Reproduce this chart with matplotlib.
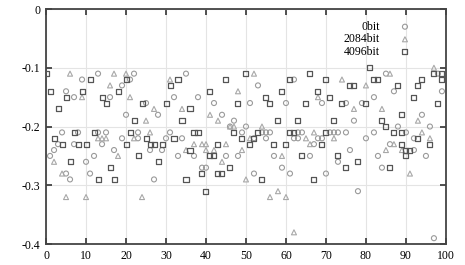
import matplotlib
matplotlib.use("Agg")
import matplotlib.pyplot as plt

# ---- data ----
bit0_x = [13, 22, 35, 9, 21, 19, 5, 7, 16, 32, 38, 25, 20, 28, 4, 8, 13, 15, 19, 3, 7, 14, 2, 17, 1, 12, 10, 5, 11, 6,
          23, 31, 23, 30, 34, 26, 29, 33, 37, 39, 27,
          53, 42, 51, 44, 47, 46, 50, 49, 54, 55, 56, 52, 55, 45, 48, 57, 40, 59, 52,
          62, 60, 69, 75, 79, 77, 63, 64, 71, 72, 73, 75, 62, 63, 68, 69, 80, 67, 76, 66, 73, 61, 70, 78,
          85, 98, 87, 82, 94, 88, 96, 82, 90, 92, 86, 92, 83, 95, 84, 97, 99]
bit0_y = [-0.11, -0.11, -0.11, -0.12, -0.12, -0.13, -0.14, -0.15, -0.15, -0.15, -0.15, -0.16, -0.18, -0.18, -0.21, -0.21, -0.21, -0.21, -0.22, -0.23, -0.23, -0.23, -0.24, -0.24, -0.25, -0.25, -0.26, -0.28, -0.28, -0.29,
          -0.21, -0.21, -0.22, -0.22, -0.22, -0.24, -0.24, -0.25, -0.25, -0.27, -0.29,
          -0.13, -0.16, -0.16, -0.18, -0.19, -0.20, -0.20, -0.21, -0.21, -0.21, -0.21, -0.22, -0.22, -0.25, -0.25, -0.25, -0.27, -0.27, -0.28,
          -0.12, -0.16, -0.16, -0.16, -0.16, -0.19, -0.21, -0.21, -0.21, -0.21, -0.21, -0.21, -0.22, -0.22, -0.22, -0.22, -0.22, -0.23, -0.24, -0.25, -0.26, -0.28, -0.28, -0.31,
          -0.11, -0.11, -0.14, -0.15, -0.18, -0.20, -0.20, -0.21, -0.21, -0.22, -0.23, -0.24, -0.25, -0.25, -0.27, -0.39, -0.14]

bit2084_x = [6, 17, 16, 9, 13, 14, 15, 18, 2, 4, 5, 10,
             20, 31, 21, 27, 34, 25, 26, 22, 37, 39, 35, 24,
             52, 48, 41, 43, 46, 47, 54, 51, 40, 45, 40, 42, 49, 59, 44, 50, 56, 58, 60,
             74, 68, 77, 67, 65, 72, 66, 62,
             97, 86, 80, 84, 93, 94, 96, 87, 85, 89, 91]
bit2084_y = [-0.11, -0.11, -0.13, -0.15, -0.22, -0.22, -0.22, -0.25, -0.26, -0.28, -0.32, -0.32,
             -0.11, -0.12, -0.15, -0.17, -0.17, -0.19, -0.21, -0.22, -0.23, -0.23, -0.24, -0.32,
             -0.11, -0.14, -0.18, -0.19, -0.20, -0.20, -0.20, -0.22, -0.23, -0.23, -0.24, -0.24, -0.24, -0.25, -0.26, -0.29, -0.32, -0.31, -0.32,
             -0.12, -0.15, -0.17, -0.21, -0.22, -0.22, -0.23, -0.38,
             -0.10, -0.11, -0.13, -0.17, -0.19, -0.21, -0.22, -0.23, -0.24, -0.24, -0.28]

bit4096_x = [0, 11, 20, 1, 9, 18, 5, 14, 15, 3, 7, 12, 2, 4, 8, 10, 20, 6, 16, 13, 17,
             33, 31, 24, 30, 36, 22, 34, 21, 37, 38, 25, 32, 26, 27, 29, 36, 23, 28, 39, 35, 40,
             50, 45, 41, 59, 55, 48, 56, 58, 47, 53, 49, 52, 43, 51, 57, 60, 41, 42, 46, 43, 44, 54,
             66, 70, 61, 76, 77, 68, 71, 65, 74, 63, 72, 61, 62, 70, 69, 64, 73, 78, 75, 67,
             81, 97, 99, 82, 83, 94, 99, 88, 93, 80, 92, 98, 89, 84, 85, 87, 89, 93, 89, 96, 90, 91, 90, 86]
bit4096_y = [-0.11, -0.12, -0.12, -0.14, -0.14, -0.14, -0.15, -0.15, -0.16, -0.17, -0.21, -0.21, -0.22, -0.23, -0.23, -0.23, -0.23, -0.26, -0.27, -0.29, -0.29,
             -0.12, -0.13, -0.16, -0.16, -0.17, -0.19, -0.19, -0.21, -0.21, -0.21, -0.22, -0.22, -0.23, -0.23, -0.23, -0.24, -0.25, -0.26, -0.28, -0.29, -0.31,
             -0.11, -0.12, -0.14, -0.14, -0.15, -0.16, -0.16, -0.19, -0.21, -0.21, -0.22, -0.22, -0.23, -0.23, -0.23, -0.23, -0.25, -0.25, -0.27, -0.28, -0.28, -0.29,
             -0.11, -0.12, -0.12, -0.13, -0.13, -0.14, -0.15, -0.16, -0.16, -0.19, -0.19, -0.21, -0.21, -0.21, -0.23, -0.25, -0.25, -0.26, -0.27, -0.29,
             -0.10, -0.11, -0.11, -0.12, -0.12, -0.12, -0.12, -0.13, -0.13, -0.16, -0.15, -0.16, -0.18, -0.19, -0.20, -0.21, -0.21, -0.22, -0.23, -0.23, -0.24, -0.24, -0.25, -0.27]

labels = ["0bit", "2084bit", "4096bit"]
x_ticks = [0, 10, 20, 30, 40, 50, 60, 70, 80, 90, 100]
y_ticks = [0, -0.1, -0.2, -0.3, -0.4]
y_ticklabels = ["0", "-0.1", "-0.2", "-0.3", "-0.4"]

plt.rcParams['font.family'] = ['Liberation Serif', 'DejaVu Serif']

fig = plt.figure(figsize=(4.65, 2.65), dpi=100)
ax = fig.add_axes([0.099, 0.079, 0.860, 0.887])

ax.scatter(bit0_x, bit0_y, marker='o', s=13, facecolors='none', edgecolors='#9a9a9a',
           linewidths=0.8, label=labels[0], zorder=3)
ax.scatter(bit2084_x, bit2084_y, marker='^', s=13, facecolors='none', edgecolors='#a8a8a8',
           linewidths=0.8, label=labels[1], zorder=3)
ax.scatter(bit4096_x, bit4096_y, marker='s', s=13, facecolors='none', edgecolors='#555555',
           linewidths=0.9, label=labels[2], zorder=3)

ax.set_xlim(0, 100)
ax.set_ylim(-0.4, 0)
ax.set_xticks(x_ticks)
ax.set_xticklabels([str(t) for t in x_ticks])
ax.set_yticks(y_ticks)
ax.set_yticklabels(y_ticklabels)
ax.grid(True, color='#e4e4e4', linewidth=0.8, zorder=0)
ax.set_axisbelow(True)
ax.tick_params(direction='in', length=4, width=1.2, top=True, right=True,
               labelsize=8.5, pad=4, color='#333333')
for s in ax.spines.values():
    s.set_color('#444444')
    s.set_linewidth(1.3)

leg = ax.legend(loc='upper right', bbox_to_anchor=(0.93, 0.98), markerfirst=False,
                frameon=False, fontsize=8.5, handletextpad=1.6, labelspacing=0.05,
                borderaxespad=0.2, handlelength=1.0)

fig.savefig("out.png", dpi=100)
